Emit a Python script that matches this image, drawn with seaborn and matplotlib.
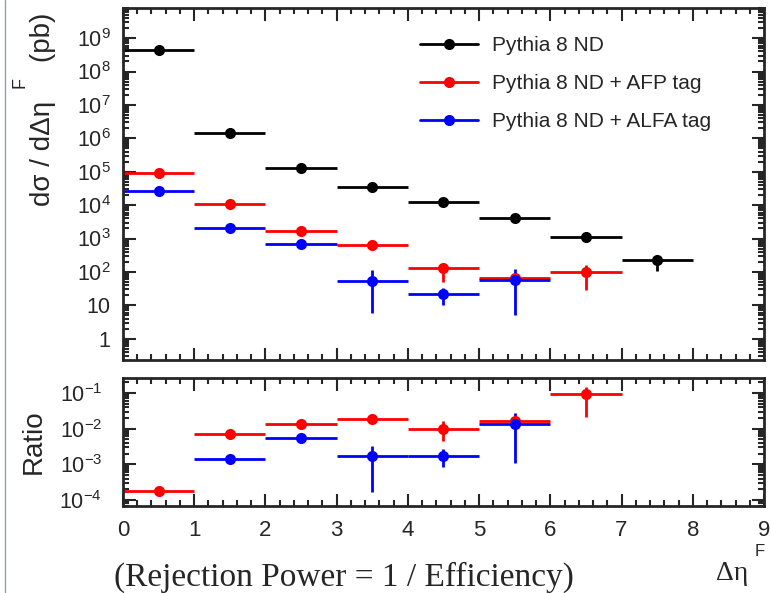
import numpy as np
import pandas as pd
import seaborn as sns
import matplotlib.pyplot as plt
from matplotlib.ticker import FixedLocator, LogLocator, FuncFormatter, MultipleLocator
from matplotlib.lines import Line2D

# data
bin_lo = [0, 1, 2, 3, 4, 5, 6, 7]
bin_w = 1.0

nd_val = [4.5e8, 1.4e6, 1.3e5, 3.5e4, 1.2e4, 4.0e3, 1.1e3, 220]
nd_lo = [0, 0, 0, 0, 0, 0, 50, 110]
nd_hi = [0, 0, 0, 0, 0, 0, 50, 40]

afp_val = [9.0e4, 1.1e4, 1.65e3, 630, 130, 65, 98]
afp_lo = [0, 0, 0, 0, 81, 20, 70]
afp_hi = [0, 0, 0, 0, 50, 30, 62]

alfa_val = [2.6e4, 2.0e3, 680, 53, 22, 56]
alfa_lo = [0, 0, 0, 47, 12, 51]
alfa_hi = [0, 0, 0, 59, 11, 64]

r_afp_bins = [0, 1, 2, 3, 4, 5, 6]
r_afp_val = [1.8e-4, 7.1e-3, 1.3e-2, 1.8e-2, 1.0e-2, 1.6e-2, 9.3e-2]
r_afp_lo = [0, 1.5e-3, 2e-3, 2e-3, 5.4e-3, 5e-3, 7.2e-2]
r_afp_hi = [0, 1.5e-3, 2e-3, 2e-3, 6e-3, 6e-3, 5.7e-2]

r_alfa_bins = [1, 2, 3, 4, 5]
r_alfa_val = [1.4e-3, 5.4e-3, 1.7e-3, 1.7e-3, 1.35e-2]
r_alfa_lo = [3e-4, 8e-4, 1.53e-3, 8.7e-4, 1.24e-2]
r_alfa_hi = [4e-4, 1e-3, 1.6e-3, 9e-4, 1.45e-2]

labels = ['Pythia 8 ND', 'Pythia 8 ND + AFP tag', 'Pythia 8 ND + ALFA tag']
colors = ['black', '#ff0000', '#0000ff']

sns.set_style('ticks')
plt.rcParams['font.family'] = ['Liberation Sans', 'DejaVu Sans']
plt.rcParams['mathtext.fontset'] = 'custom'
plt.rcParams['mathtext.rm'] = 'Liberation Sans'
plt.rcParams['mathtext.it'] = 'Liberation Sans:italic'

W, H = 771, 593
fig = plt.figure(figsize=(W / 100, H / 100), dpi=100)
ax = fig.add_axes([123 / W, 1 - 360 / H, (764 - 123) / W, 352 / H])
axr = fig.add_axes([123 / W, 1 - 506 / H, (764 - 123) / W, 128 / H])


def draw(a, bins, val, lo, hi, color):
    x = np.array(bins) + bin_w / 2
    df = pd.DataFrame({'x': x, 'y': val})
    a.errorbar(x, val, xerr=bin_w / 2, yerr=[lo, hi], fmt='none',
               ecolor=color, elinewidth=2.0, capsize=0, zorder=2)
    sns.scatterplot(data=df, x='x', y='y', ax=a, color=color, s=64,
                    edgecolor=color, linewidth=0, zorder=3, legend=False)


draw(ax, bin_lo, nd_val, nd_lo, nd_hi, colors[0])
draw(ax, bin_lo[:7], afp_val, afp_lo, afp_hi, colors[1])
draw(ax, bin_lo[:6], alfa_val, alfa_lo, alfa_hi, colors[2])

draw(axr, r_afp_bins, r_afp_val, r_afp_lo, r_afp_hi, colors[1])
draw(axr, r_alfa_bins, r_alfa_val, r_alfa_lo, r_alfa_hi, colors[2])


def log_fmt(v, pos):
    n = int(round(np.log10(v)))
    if n == 0:
        return '1'
    if n == 1:
        return '10'
    return '$10^{%d}$' % n


for a in (ax, axr):
    a.set_xlim(0, 9)
    a.set_yscale('log')
    a.xaxis.set_major_locator(MultipleLocator(1))
    a.xaxis.set_minor_locator(MultipleLocator(0.2))
    a.yaxis.set_minor_locator(LogLocator(base=10, subs=np.arange(2, 10), numticks=20))
    a.yaxis.set_major_formatter(FuncFormatter(log_fmt))
    a.tick_params(which='both', direction='in', top=True, right=True, width=1.5)
    a.tick_params(which='major', length=9, labelsize=15.5)
    a.tick_params(which='minor', length=4.5)
    a.set_xlabel('')
    a.set_ylabel('')
    for s in a.spines.values():
        s.set_linewidth(2.0)

ax.set_ylim(0.23, 8e9)
ax.yaxis.set_major_locator(FixedLocator([10.0 ** k for k in range(0, 10)]))
ax.tick_params(axis='x', labelbottom=False)
ax.tick_params(axis='y', pad=9)

axr.set_ylim(6.8e-5, 0.26)
axr.yaxis.set_major_locator(FixedLocator([1e-4, 1e-3, 1e-2, 1e-1]))
axr.tick_params(axis='y', pad=15)
axr.tick_params(axis='x', pad=10)
for t in axr.get_xticklabels():
    t.set_family(['Liberation Sans Narrow', 'Liberation Sans'])
    t.set_fontsize(16)

# axis titles, ROOT style
fig.text(43 / W, 1 - 13 / H, 'd\u03c3 / d\u0394\u03b7     (pb)', rotation=90,
         fontsize=20, ha='center', va='top')
fig.text(20 / W, 1 - 83 / H, 'F', rotation=90, fontsize=13, ha='center', va='center')
fig.text(34 / W, 1 - 442 / H, 'Ratio', rotation=90, fontsize=20, ha='center', va='center')

handles = [Line2D([], [], color=c, lw=2.0, marker='o', markersize=7) for c in colors]
ax.legend(handles, labels, loc='upper left', bbox_to_anchor=(420 / W, 1 - 36 / H),
          bbox_transform=fig.transFigure, borderaxespad=0, borderpad=0,
          frameon=False, fontsize=15, handlelength=2.8, labelspacing=0.92,
          handletextpad=0.65)

fig.text(344 / W, 1 - 577 / H, '(Rejection Power = 1 / Efficiency)',
         family=['Liberation Serif', 'DejaVu Serif'], fontsize=24,
         ha='center', va='center')
fig.text(716 / W, 1 - 574 / H, '\u0394\u03b7', family=['Liberation Serif', 'DejaVu Serif'],
         fontsize=20, ha='left', va='center')
fig.text(760 / W, 1 - 551 / H, 'F', fontsize=12, ha='center', va='center')

fig.add_artist(Line2D([5 / W, 5 / W], [0, 1], color='#8fa3ad', lw=1.0))

fig.savefig('out.png', dpi=100)
